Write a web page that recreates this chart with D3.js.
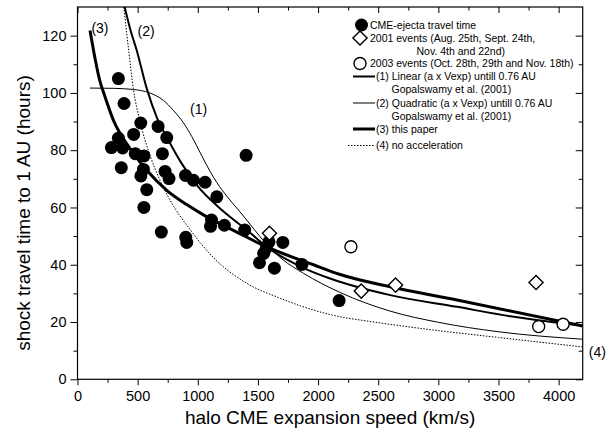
<!DOCTYPE html>
<html>
<head>
<meta charset="utf-8">
<script src="https://cdn.jsdelivr.net/npm/d3@7"></script>
<style>
  body { margin: 0; background: #fff; }
  svg { font-family: Arial, "Liberation Sans", sans-serif; }
</style>
</head>
<body>
<div id="chart"></div>
<script>
// CME-ejecta travel time (filled circles): [speed km/s, hours]
const cmeEjecta = [
    [340, 105], [387, 96.3], [526, 89.5], [670, 88.3], [742, 84.4], [467, 85.5],
    [340, 84.2], [282, 80.9], [375, 80.8], [480, 78.8], [553, 78], [706, 78.8],
    [364, 73.9], [548, 73.3], [527, 71], [728, 72.6], [761, 70.1], [898, 71.2],
    [964, 69.5], [1061, 68.8], [576, 66.2], [1158, 63.7], [552, 60], [1402, 78.2],
    [1114, 55.6], [1106, 53.4], [1221, 53.8], [1390, 52.1], [697, 51.4], [900, 49.6],
    [908, 47.8], [1592, 48], [1707, 47.8], [1548, 44], [1570, 46], [1513, 40.7],
    [1637, 38.8], [1866, 40.1], [2175, 27.5]
];
// 2001 events (diamonds)
const events2001 = [[1596, 51], [2359, 30.8], [2644, 32.9], [3812, 33.8]];
// 2003 events (open circles)
const events2003 = [[2273, 46.3], [3834, 18.4], [4037, 19.2]];

// model curves
const curveLinear = [
    [104, 101.7], [300, 101.6], [464, 101.2], [600, 100], [714, 97.4], [797, 93.9],
    [880, 89.6], [950, 84.8], [1019, 79.2], [1102, 72.6], [1160, 68.6], [1240, 64],
    [1324, 59.8], [1380, 57], [1450, 53.3], [1518, 49.8], [1574, 47], [1700, 42],
    [1879, 37], [2184, 30.3], [2600, 23.8], [3000, 19.9], [3500, 16.6], [4200, 14]
];
const curveQuadratic = [
    [392, 130], [440, 122], [492, 114.9], [576, 101.5], [659, 91.5], [756, 83.5],
    [867, 75.3], [992, 67.8], [1200, 59.1], [1408, 52.1], [1574, 46.2], [1900, 38.5],
    [2100, 35.2], [2600, 29.4], [3155, 25.3], [3600, 22], [4042, 19.5], [4200, 18.8]
];
const curveThisPaper = [
    [104, 121.8], [146, 112], [187, 104], [214, 100.5], [298, 90.5], [437, 80.5],
    [576, 73], [742, 66], [908, 61], [1047, 57.4], [1324, 51.4], [1574, 46.2],
    [1962, 40], [2184, 36.6], [2600, 32.3], [3155, 27.7], [4200, 18.6]
];
const curveNoAccel = [
    [385, 130], [425, 115], [464, 101.5], [520, 90], [603, 78.2], [686, 69.5],
    [770, 62.5], [853, 57], [936, 52.3], [1030, 47.2], [1130, 42.5], [1408, 33.5],
    [1685, 28.3], [1850, 25.7], [2100, 22.6], [2500, 19.8], [2960, 17.2],
    [3500, 14.6], [4200, 11.3]
];

const curveLabels = [
    { text: "(3)", x: 187, y: 121 },
    { text: "(2)", x: 570, y: 119.7 },
    { text: "(1)", x: 1007, y: 92.5 },
    { text: "(4)", x: 4322, y: 7.8 }
];

const legendRows = [
    { kind: "dot", lines: ["CME-ejecta travel time"] },
    { kind: "diamond", lines: ["2001 events (Aug. 25th, Sept. 24th,", "Nov. 4th and 22nd)"] },
    { kind: "ring", lines: ["2003 events (Oct. 28th, 29th and Nov. 18th)"] },
    { kind: "line2", lines: ["(1) Linear (a x Vexp) untill 0.76 AU", "Gopalswamy et al. (2001)"] },
    { kind: "line1", lines: ["(2) Quadratic (a x Vexp) untill 0.76 AU", "Gopalswamy et al. (2001)"] },
    { kind: "line3", lines: ["(3) this paper"] },
    { kind: "dots", lines: ["(4) no acceleration"] }
];

const width = 614, height = 438;
const margin = { left: 77.5, top: 7, right: 31.3, bottom: 58.7 };
const innerW = width - margin.left - margin.right;
const innerH = height - margin.top - margin.bottom;

const svg = d3.select("#chart").append("svg")
    .attr("width", width)
    .attr("height", height);

const x = d3.scaleLinear().domain([0, 4200]).range([0, innerW]);
const y = d3.scaleLinear().domain([0, 130]).range([innerH, 0]);

const g = svg.append("g").attr("transform", `translate(${margin.left},${margin.top})`);

g.append("clipPath").attr("id", "clip")
    .append("rect").attr("width", innerW).attr("height", innerH);

// axes: bottom/left ticks outward, top/right ticks inward
const majorX = d3.range(0, 4001, 500), minorX = d3.range(250, 4200, 500);
const majorY = d3.range(0, 121, 20), minorY = d3.range(10, 130, 20);

function tickGroup(axis, sel) {
    sel.call(axis);
    sel.select(".domain").remove();
    sel.selectAll("line").attr("stroke", "#000").attr("stroke-width", 1);
    sel.selectAll("text").attr("fill", "#000").style("font-size", "14.5px");
}

g.append("g").attr("transform", `translate(0,${innerH})`)
    .call(sel => tickGroup(d3.axisBottom(x).tickValues(majorX).tickSize(6).tickPadding(5).tickFormat(d3.format("d")), sel));
g.append("g").attr("transform", `translate(0,${innerH})`)
    .call(sel => tickGroup(d3.axisBottom(x).tickValues(minorX).tickSize(3.5).tickFormat(""), sel));
g.append("g")
    .call(sel => tickGroup(d3.axisLeft(y).tickValues(majorY).tickSize(7).tickPadding(4).tickFormat(d3.format("d")), sel));
g.append("g")
    .call(sel => tickGroup(d3.axisLeft(y).tickValues(minorY).tickSize(4).tickFormat(""), sel));
g.append("g")
    .call(sel => tickGroup(d3.axisTop(x).tickValues(majorX).tickSize(-6).tickFormat(""), sel));
g.append("g")
    .call(sel => tickGroup(d3.axisTop(x).tickValues(minorX).tickSize(-3.5).tickFormat(""), sel));
g.append("g").attr("transform", `translate(${innerW},0)`)
    .call(sel => tickGroup(d3.axisRight(y).tickValues(majorY).tickSize(-7).tickFormat(""), sel));
g.append("g").attr("transform", `translate(${innerW},0)`)
    .call(sel => tickGroup(d3.axisRight(y).tickValues(minorY).tickSize(-4).tickFormat(""), sel));

g.append("rect")
    .attr("width", innerW).attr("height", innerH)
    .attr("fill", "none").attr("stroke", "#000").attr("stroke-width", 1.2);

// axis titles
svg.append("text")
    .attr("x", margin.left + innerW / 2).attr("y", 424)
    .attr("text-anchor", "middle")
    .style("font-size", "19px")
    .text("halo CME expansion speed (km/s)");
svg.append("text")
    .attr("transform", "translate(30,213) rotate(-90)")
    .attr("text-anchor", "middle")
    .style("font-size", "19px")
    .text("shock travel time to 1 AU (hours)");

// curves
const line = d3.line().x(d => x(d[0])).y(d => y(d[1])).curve(d3.curveMonotoneX);
const plot = g.append("g").attr("clip-path", "url(#clip)");

plot.append("path").datum(curveNoAccel)
    .attr("d", line).attr("fill", "none").attr("stroke", "#000")
    .attr("stroke-width", 1).attr("stroke-dasharray", "1.5,1.5");
plot.append("path").datum(curveLinear)
    .attr("d", line).attr("fill", "none").attr("stroke", "#000").attr("stroke-width", 1);
plot.append("path").datum(curveQuadratic)
    .attr("d", line).attr("fill", "none").attr("stroke", "#000").attr("stroke-width", 2);
plot.append("path").datum(curveThisPaper)
    .attr("d", line).attr("fill", "none").attr("stroke", "#000").attr("stroke-width", 3);

// markers
plot.append("g").selectAll("circle")
    .data(cmeEjecta)
    .join("circle")
    .attr("cx", d => x(d[0])).attr("cy", d => y(d[1]))
    .attr("r", 6.5).attr("fill", "#000");

const diamond = d3.symbol().type(d3.symbolSquare).size(100);
plot.append("g").selectAll("path")
    .data(events2001)
    .join("path")
    .attr("d", diamond)
    .attr("transform", d => `translate(${x(d[0])},${y(d[1])}) rotate(45)`)
    .attr("fill", "#fff").attr("stroke", "#000").attr("stroke-width", 1.4);

plot.append("g").selectAll("circle")
    .data(events2003)
    .join("circle")
    .attr("cx", d => x(d[0])).attr("cy", d => y(d[1]))
    .attr("r", 6).attr("fill", "#fff").attr("stroke", "#000").attr("stroke-width", 1.4);

// curve labels
g.append("g").selectAll("text")
    .data(curveLabels)
    .join("text")
    .attr("x", d => x(d.x)).attr("y", d => y(d.y))
    .attr("text-anchor", "middle")
    .style("font-size", "14px")
    .text(d => d.text);

// legend
const legend = svg.append("g").style("font-size", "10.5px");
const rowY = [28.5, 41.5, 67, 80, 106.5, 132.5, 149];
const lineStyle = {
    line2: { w: 2, dash: null },
    line1: { w: 1, dash: null },
    line3: { w: 3, dash: null },
    dots: { w: 1, dash: "1.5,1.5" }
};

legendRows.forEach((row, i) => {
    const cy = rowY[i];
    const item = legend.append("g");
    let tx = 370;
    if (row.kind === "dot") {
        item.append("circle").attr("cx", 361.5).attr("cy", cy - 3.5).attr("r", 6.5).attr("fill", "#000");
    } else if (row.kind === "diamond") {
        item.append("path").attr("d", diamond)
            .attr("transform", `translate(360,${cy - 3.5}) rotate(45)`)
            .attr("fill", "#fff").attr("stroke", "#000").attr("stroke-width", 1.4);
    } else if (row.kind === "ring") {
        item.append("circle").attr("cx", 360).attr("cy", cy - 3.5).attr("r", 6)
            .attr("fill", "#fff").attr("stroke", "#000").attr("stroke-width", 1.4);
    } else {
        const s = lineStyle[row.kind];
        item.append("line")
            .attr("x1", row.kind === "dots" ? 348 : 353).attr("x2", 375)
            .attr("y1", cy - 3.5).attr("y2", cy - 3.5)
            .attr("stroke", "#000").attr("stroke-width", s.w)
            .attr("stroke-dasharray", s.dash);
        tx = 376;
    }
    row.lines.forEach((t, j) => {
        const indent = j === 0 ? tx : (row.kind === "diamond" ? 416.5 : 391.5);
        item.append("text")
            .attr("x", indent).attr("y", cy + j * 13.3)
            .text(t);
    });
});
</script>
</body>
</html>
